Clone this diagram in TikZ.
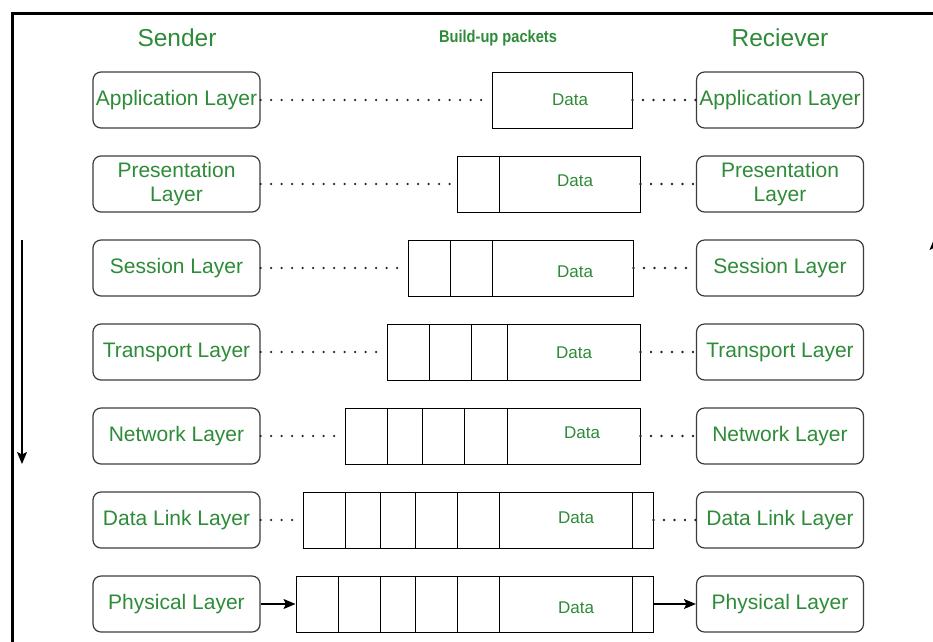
\documentclass[tikz,border=0pt]{standalone}
\usepackage{fontspec}
\setmainfont{Liberation Sans}
\usetikzlibrary{arrows.meta}
\definecolor{lgreen}{RGB}{46,139,56}
\definecolor{boxgray}{RGB}{60,60,60}
\begin{document}
\begin{tikzpicture}[x=1pt,y=-1pt,
 layer/.style={draw=boxgray, line width=1.2pt, rounded corners=8pt, minimum width=167pt, minimum height=56pt, align=center, text=lgreen, font=\fontsize{21}{24}\selectfont, inner sep=0pt},
 pkt/.style={draw=black, line width=1pt, minimum height=56pt, inner sep=0pt},
 pktline/.style={draw=black, line width=1pt},
 lbl/.style={text=lgreen, font=\fontsize{17}{19}\selectfont},
 head/.style={text=lgreen, font=\fontsize{24.5}{27}\selectfont},
 subhead/.style={text=lgreen, font=\bfseries\fontsize{17}{19}\selectfont, xscale=0.86, transform shape},
 dots/.style={draw=black!85, line width=2.6pt, line cap=round, dash pattern=on 0pt off 10.5pt},
 flow/.style={draw=black, line width=1.1pt, -{Stealth[length=12pt,width=10pt,inset=2.5pt]}},
]
\useasboundingbox (0,0) rectangle (933,641);
\fill[white] (0,0) rectangle (933,641);
% frame
\draw[line width=3pt] (12,660) -- (12,13.5) -- (960,13.5);
% headings
\node[head] (sender) at (177,38) {Sender};
\node[subhead] (build) at (498,38) {Build-up packets};
\node[head] (recv) at (780,38) {Reciever};
% sender layers
\node[layer] (s1) at (176.5,100) {Application Layer};
\node[layer] (s2) at (176.5,184) {Presentation\\Layer};
\node[layer] (s3) at (176.5,268) {Session Layer};
\node[layer] (s4) at (176.5,352) {Transport Layer};
\node[layer] (s5) at (176.5,436) {Network Layer};
\node[layer] (s6) at (176.5,520) {Data Link Layer};
\node[layer] (s7) at (176.5,604) {Physical Layer};
% receiver layers
\node[layer] (r1) at (780,100) {Application Layer};
\node[layer] (r2) at (780,184) {Presentation\\Layer};
\node[layer] (r3) at (780,268) {Session Layer};
\node[layer] (r4) at (780,352) {Transport Layer};
\node[layer] (r5) at (780,436) {Network Layer};
\node[layer] (r6) at (780,520) {Data Link Layer};
\node[layer] (r7) at (780,604) {Physical Layer};
% packets
\node[pkt, minimum width=140pt] (p1) at (562,100) {};
\node[pkt, minimum width=183pt] (p2) at (548.5,184) {};
\node[pkt, minimum width=225pt] (p3) at (520.5,268) {};
\node[pkt, minimum width=253pt] (p4) at (513.5,352) {};
\node[pkt, minimum width=295pt] (p5) at (492.5,436) {};
\node[pkt, minimum width=350pt] (p6) at (478,520) {};
\node[pkt, minimum width=357pt] (p7) at (474.5,604) {};
% packet dividers
\foreach \x in {499} \draw[pktline] (\x,156) -- (\x,212);
\foreach \x in {450,492} \draw[pktline] (\x,240) -- (\x,296);
\foreach \x in {429,471,507} \draw[pktline] (\x,324) -- (\x,380);
\foreach \x in {387,422,464,507} \draw[pktline] (\x,408) -- (\x,464);
\foreach \x in {345,380,415,457,499,632} \draw[pktline] (\x,492) -- (\x,548);
\foreach \x in {338,380,415,457,499,632} \draw[pktline] (\x,576) -- (\x,632);
% data labels
\node[lbl] (d1) at (570,100) {Data};
\node[lbl] (d2) at (575,181) {Data};
\node[lbl] (d3) at (575,272) {Data};
\node[lbl] (d4) at (574,353) {Data};
\node[lbl] (d5) at (582,433) {Data};
\node[lbl] (d6) at (576,518) {Data};
\node[lbl] (d7) at (576,608) {Data};
% dotted connectors
\foreach \i in {1,...,6} {
  \draw[dots] (s\i.east) -- (p\i.west);
  \draw[dots] (p\i.east) -- (r\i.west);
}
% physical links
\draw[flow] (s7.east) -- (p7.west);
\draw[flow] (p7.east) -- (r7.west);
% direction arrows
\coordinate (dtop) at (22,240);
\coordinate (dbot) at (22,464);
\draw[flow] (dtop) -- (dbot);
\coordinate (utop) at (934.5,238);
\coordinate (ubot) at (934.5,464);
\draw[flow] (ubot) -- (utop);
\end{tikzpicture}
\end{document}
